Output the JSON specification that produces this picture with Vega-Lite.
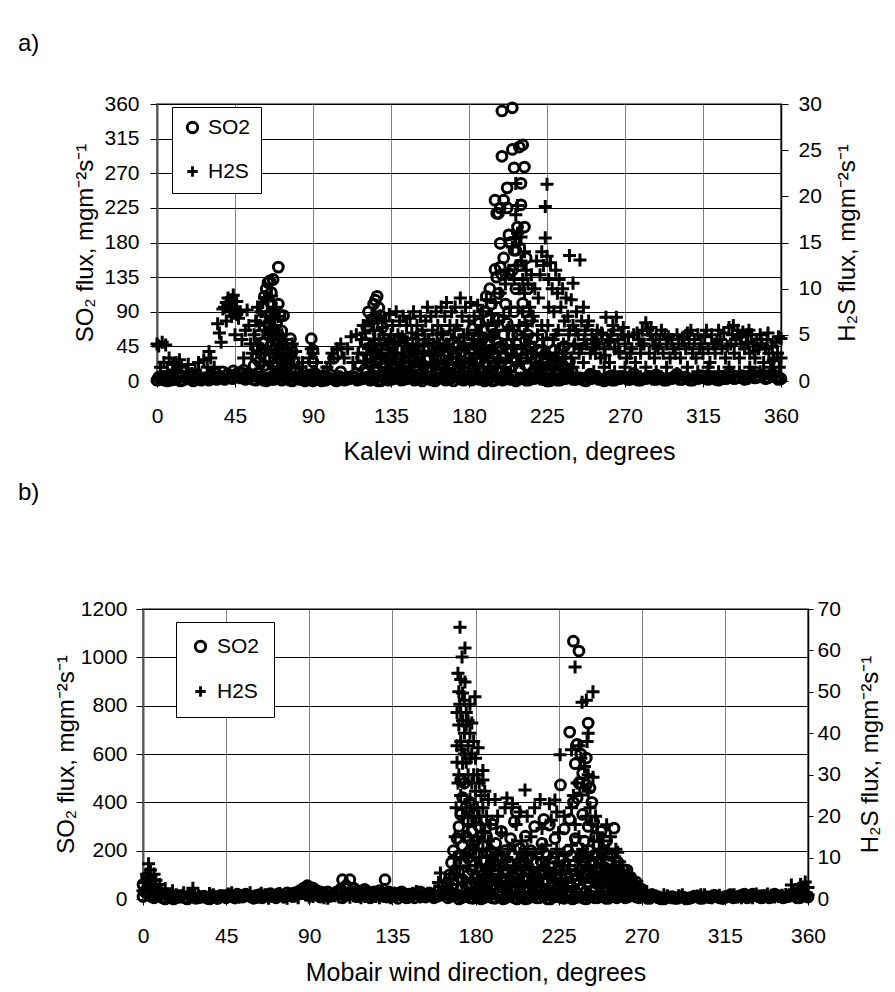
{
"$schema": "https://vega.github.io/schema/vega-lite/v6.json",
"background": "white",
"padding": {"left": 18, "top": 32, "right": 5, "bottom": 5},
"config": {
 "font": "Liberation Sans",
 "view": {"stroke": null},
 "axis": {"labelFont": "Liberation Sans", "titleFont": "Liberation Sans", "labelFontSize": 21, "titleFontSize": 24, "titleFontWeight": "normal", "labelColor": "#000", "titleColor": "#000", "domainColor": "#000", "tickColor": "#000", "labelOverlap": false, "labelFlush": false},
 "title": {"font": "Liberation Sans", "fontSize": 24, "fontWeight": "normal", "color": "#000", "anchor": "start"}
},
"datasets": {
 "aS": [
  {"d":0,"v":1},{"d":3,"v":4},{"d":6,"v":0},{"d":9,"v":2},{"d":12,"v":5},{"d":15,"v":1},{"d":18,"v":3},{"d":21,"v":0},{"d":24,"v":2},{"d":27,"v":4},{"d":30,"v":1},{"d":33,"v":3},{"d":36,"v":6},{"d":39,"v":2},{"d":42,"v":5},{"d":45,"v":8},{"d":48,"v":4},{"d":51,"v":2},{"d":54,"v":6},{"d":57,"v":1},{"d":60,"v":3},{"d":63,"v":0},{"d":66,"v":2},{"d":69,"v":5},{"d":72,"v":1},{"d":75,"v":3},{"d":78,"v":0},{"d":81,"v":4},{"d":84,"v":2},{"d":87,"v":5},{"d":90,"v":0},{"d":93,"v":3},{"d":96,"v":1},{"d":99,"v":4},{"d":102,"v":2},{"d":105,"v":6},{"d":108,"v":1},{"d":111,"v":3},{"d":114,"v":5},{"d":117,"v":2},{"d":120,"v":4},{"d":123,"v":1},{"d":126,"v":3},{"d":129,"v":0},{"d":132,"v":5},{"d":135,"v":2},{"d":138,"v":4},{"d":141,"v":1},{"d":144,"v":3},{"d":147,"v":6},{"d":150,"v":2},{"d":153,"v":0},{"d":156,"v":4},{"d":159,"v":1},{"d":162,"v":3},{"d":165,"v":5},{"d":168,"v":2},{"d":171,"v":0},{"d":174,"v":4},{"d":177,"v":1},{"d":180,"v":3},{"d":183,"v":6},{"d":186,"v":2},{"d":189,"v":0},{"d":192,"v":4},{"d":195,"v":1},{"d":198,"v":3},{"d":201,"v":5},{"d":204,"v":2},{"d":207,"v":0},{"d":210,"v":4},{"d":213,"v":1},{"d":216,"v":3},{"d":219,"v":6},{"d":222,"v":2},{"d":225,"v":0},{"d":228,"v":4},{"d":231,"v":1},{"d":234,"v":3},{"d":237,"v":5},{"d":240,"v":2},{"d":243,"v":4},{"d":246,"v":1},{"d":249,"v":3},{"d":252,"v":5},{"d":255,"v":2},{"d":258,"v":0},{"d":261,"v":4},{"d":264,"v":1},{"d":267,"v":3},{"d":270,"v":5},{"d":273,"v":2},{"d":276,"v":4},{"d":279,"v":1},{"d":282,"v":3},{"d":285,"v":5},{"d":288,"v":2},{"d":291,"v":4},{"d":294,"v":1},{"d":297,"v":3},{"d":300,"v":5},{"d":303,"v":2},{"d":306,"v":4},{"d":309,"v":1},{"d":312,"v":3},{"d":315,"v":6},{"d":318,"v":2},{"d":321,"v":4},{"d":324,"v":1},{"d":327,"v":3},{"d":330,"v":6},{"d":333,"v":3},{"d":336,"v":5},{"d":339,"v":2},{"d":342,"v":7},{"d":345,"v":4},{"d":348,"v":6},{"d":351,"v":3},{"d":354,"v":8},{"d":357,"v":5},{"d":360,"v":3},
  {"d":1.5,"v":3},{"d":4.5,"v":1},{"d":7.5,"v":4},{"d":10.5,"v":2},{"d":13.5,"v":0},{"d":16.5,"v":4},{"d":19.5,"v":2},{"d":22.5,"v":5},{"d":25.5,"v":1},{"d":28.5,"v":3},{"d":31.5,"v":6},{"d":34.5,"v":2},{"d":37.5,"v":4},{"d":40.5,"v":8},{"d":43.5,"v":3},{"d":46.5,"v":6},{"d":49.5,"v":10},{"d":52.5,"v":4},{"d":55.5,"v":2},{"d":58.5,"v":5},{"d":61.5,"v":1},{"d":64.5,"v":4},{"d":67.5,"v":2},{"d":70.5,"v":6},{"d":73.5,"v":3},{"d":76.5,"v":1},{"d":79.5,"v":5},{"d":82.5,"v":2},{"d":85.5,"v":0},{"d":88.5,"v":4},{"d":91.5,"v":2},{"d":94.5,"v":5},{"d":97.5,"v":1},{"d":100.5,"v":3},{"d":103.5,"v":0},{"d":106.5,"v":4},{"d":109.5,"v":2},{"d":112.5,"v":6},{"d":115.5,"v":1},{"d":118.5,"v":3},{"d":121.5,"v":5},{"d":124.5,"v":2},{"d":127.5,"v":0},{"d":130.5,"v":4},{"d":133.5,"v":1},{"d":136.5,"v":3},{"d":139.5,"v":6},{"d":142.5,"v":2},{"d":145.5,"v":4},{"d":148.5,"v":1},{"d":151.5,"v":3},{"d":154.5,"v":5},{"d":157.5,"v":2},{"d":160.5,"v":0},{"d":163.5,"v":4},{"d":166.5,"v":1},{"d":169.5,"v":3},{"d":172.5,"v":6},{"d":175.5,"v":2},{"d":178.5,"v":4},{"d":181.5,"v":1},{"d":184.5,"v":3},{"d":187.5,"v":5},{"d":190.5,"v":2},{"d":193.5,"v":0},{"d":196.5,"v":4},{"d":199.5,"v":1},{"d":202.5,"v":3},{"d":205.5,"v":6},{"d":208.5,"v":2},{"d":211.5,"v":4},{"d":214.5,"v":1},{"d":217.5,"v":3},{"d":220.5,"v":5},{"d":223.5,"v":2},{"d":226.5,"v":0},{"d":229.5,"v":4},{"d":232.5,"v":1},{"d":235.5,"v":3},{"d":238.5,"v":6},{"d":241.5,"v":2},{"d":244.5,"v":4},{"d":247.5,"v":0},{"d":250.5,"v":3},{"d":253.5,"v":6},{"d":256.5,"v":2},{"d":259.5,"v":4},{"d":262.5,"v":1},{"d":265.5,"v":3},{"d":268.5,"v":6},{"d":271.5,"v":2},{"d":274.5,"v":4},{"d":277.5,"v":1},{"d":280.5,"v":3},{"d":283.5,"v":6},{"d":286.5,"v":2},{"d":289.5,"v":4},{"d":292.5,"v":1},{"d":295.5,"v":3},{"d":298.5,"v":6},{"d":301.5,"v":2},{"d":304.5,"v":5},{"d":307.5,"v":1},{"d":310.5,"v":4},{"d":313.5,"v":7},{"d":316.5,"v":3},{"d":319.5,"v":5},{"d":322.5,"v":2},{"d":325.5,"v":6},{"d":328.5,"v":3},{"d":331.5,"v":8},{"d":334.5,"v":4},{"d":337.5,"v":7},{"d":340.5,"v":3},{"d":343.5,"v":9},{"d":346.5,"v":5},{"d":349.5,"v":8},{"d":352.5,"v":4},{"d":355.5,"v":7},{"d":358.5,"v":2},
  {"d":1,"v":5},{"d":2,"v":2},{"d":4,"v":6},{"d":5,"v":3},{"d":7,"v":4},{"d":8,"v":1},{"d":10,"v":3},{"d":31,"v":8},{"d":34,"v":10},{"d":38,"v":12},{"d":41,"v":9},{"d":44,"v":13},{"d":47,"v":11},{"d":50,"v":14},{"d":53,"v":9},
  {"d":56,"v":20},{"d":57,"v":30},{"d":58,"v":45},{"d":59,"v":60},{"d":60,"v":80},{"d":61,"v":95},{"d":62,"v":70},{"d":62,"v":110},{"d":63,"v":120},{"d":64,"v":128},{"d":65,"v":130},{"d":66,"v":115},{"d":66,"v":100},{"d":67,"v":132},{"d":68,"v":90},{"d":68,"v":60},{"d":69,"v":75},{"d":70,"v":148},{"d":70,"v":100},{"d":71,"v":85},{"d":72,"v":65},{"d":72,"v":45},{"d":73,"v":85},{"d":74,"v":40},{"d":75,"v":30},{"d":76,"v":20},{"d":77,"v":55},{"d":78,"v":38},{"d":79,"v":25},{"d":80,"v":15},{"d":82,"v":10},{"d":84,"v":5},{"d":86,"v":3},{"d":88,"v":8},
  {"d":58,"v":10},{"d":59,"v":25},{"d":60,"v":35},{"d":60,"v":5},{"d":61,"v":50},{"d":62,"v":20},{"d":63,"v":40},{"d":64,"v":60},{"d":64,"v":15},{"d":65,"v":75},{"d":65,"v":30},{"d":66,"v":45},{"d":66,"v":5},{"d":67,"v":20},{"d":67,"v":65},{"d":68,"v":35},{"d":69,"v":10},{"d":69,"v":50},{"d":70,"v":30},{"d":70,"v":60},{"d":71,"v":15},{"d":71,"v":45},{"d":72,"v":25},{"d":73,"v":10},{"d":74,"v":20},{"d":75,"v":5},
  {"d":89,"v":55},{"d":90,"v":25},{"d":90,"v":40},{"d":91,"v":10},{"d":92,"v":3},{"d":95,"v":0},{"d":97,"v":5},{"d":100,"v":8},{"d":102,"v":30},{"d":104,"v":35},{"d":106,"v":12},{"d":108,"v":3},{"d":110,"v":5},
  {"d":115,"v":10},{"d":117,"v":20},{"d":119,"v":40},{"d":120,"v":50},{"d":121,"v":70},{"d":122,"v":90},{"d":123,"v":60},{"d":124,"v":80},{"d":125,"v":100},{"d":126,"v":105},{"d":127,"v":110},{"d":128,"v":95},{"d":129,"v":85},{"d":130,"v":70},{"d":131,"v":55},{"d":132,"v":40},{"d":118,"v":30},{"d":120,"v":15},{"d":122,"v":30},{"d":124,"v":45},{"d":126,"v":25},{"d":128,"v":60},{"d":130,"v":20},{"d":131,"v":35},{"d":133,"v":10},{"d":134,"v":50},
  {"d":136,"v":45},{"d":137,"v":15},{"d":139,"v":30},{"d":140,"v":55},{"d":141,"v":5},{"d":143,"v":25},{"d":144,"v":40},{"d":146,"v":10},{"d":147,"v":50},{"d":149,"v":20},{"d":150,"v":35},{"d":152,"v":60},{"d":153,"v":5},{"d":155,"v":28},{"d":156,"v":45},{"d":158,"v":15},{"d":159,"v":55},{"d":161,"v":30},{"d":162,"v":8},{"d":164,"v":42},{"d":165,"v":20},{"d":167,"v":58},{"d":168,"v":35},{"d":170,"v":10},{"d":171,"v":48},{"d":173,"v":25},{"d":174,"v":62},{"d":176,"v":38},{"d":177,"v":12},{"d":179,"v":50},{"d":180,"v":30},{"d":182,"v":68},{"d":183,"v":18},{"d":185,"v":45},{"d":186,"v":75},{"d":187,"v":28},{"d":188,"v":55},{"d":189,"v":90},{"d":190,"v":35},{"d":190,"v":110},
  {"d":121,"v":12},{"d":122.5,"v":22},{"d":124,"v":8},{"d":125.5,"v":35},{"d":127,"v":15},{"d":128.5,"v":28},{"d":130,"v":6},{"d":131.5,"v":18},{"d":133,"v":30},{"d":134.5,"v":12},{"d":136,"v":22},{"d":137.5,"v":8},{"d":139,"v":40},{"d":140.5,"v":18},{"d":142,"v":10},{"d":143.5,"v":32},{"d":145,"v":20},{"d":146.5,"v":6},{"d":148,"v":36},{"d":149.5,"v":14},{"d":151,"v":25},{"d":152.5,"v":9},{"d":154,"v":42},{"d":155.5,"v":16},{"d":157,"v":30},{"d":158.5,"v":6},{"d":160,"v":22},{"d":161.5,"v":44},{"d":163,"v":12},{"d":164.5,"v":28},{"d":166,"v":8},{"d":167.5,"v":38},{"d":169,"v":20},{"d":170.5,"v":30},{"d":172,"v":12},{"d":173.5,"v":46},{"d":175,"v":22},{"d":176.5,"v":8},{"d":178,"v":34},{"d":179.5,"v":16},{"d":181,"v":42},{"d":182.5,"v":10},{"d":184,"v":28},{"d":185.5,"v":55},{"d":187,"v":14},{"d":188.5,"v":36},{"d":190,"v":20},{"d":191.5,"v":50},{"d":193,"v":10},{"d":194.5,"v":36},{"d":196,"v":15},{"d":197.5,"v":44},{"d":199,"v":12},{"d":200.5,"v":32},{"d":202,"v":48},{"d":203.5,"v":18},{"d":205,"v":60},{"d":206.5,"v":26},{"d":208,"v":40},{"d":209.5,"v":14},{"d":211,"v":30},{"d":212.5,"v":52},{"d":214,"v":18},{"d":215.5,"v":34},{"d":217,"v":12},{"d":218.5,"v":26},{"d":220,"v":8},{"d":221.5,"v":38},{"d":223,"v":16},{"d":224.5,"v":28},{"d":226,"v":10},{"d":227.5,"v":20},{"d":229,"v":30},{"d":230.5,"v":14},{"d":232,"v":10},{"d":233.5,"v":22},{"d":235,"v":8},{"d":236.5,"v":16},{"d":238,"v":6},{"d":239.5,"v":12},
  {"d":191,"v":80},{"d":192,"v":120},{"d":193,"v":100},{"d":194,"v":60},{"d":195,"v":145},{"d":195,"v":235},{"d":196,"v":135},{"d":196,"v":218},{"d":197,"v":114},{"d":197,"v":218},{"d":198,"v":148},{"d":198,"v":179},{"d":198,"v":225},{"d":199,"v":138},{"d":199,"v":292},{"d":199,"v":351},{"d":200,"v":160},{"d":200,"v":235},{"d":201,"v":100},{"d":202,"v":251},{"d":202,"v":225},{"d":203,"v":190},{"d":203,"v":140},{"d":204,"v":180},{"d":205,"v":144},{"d":205,"v":301},{"d":205,"v":355},{"d":206,"v":170},{"d":206,"v":277},{"d":207,"v":170},{"d":207,"v":120},{"d":208,"v":200},{"d":209,"v":304},{"d":209,"v":150},{"d":210,"v":257},{"d":210,"v":229},{"d":211,"v":307},{"d":211,"v":101},{"d":212,"v":278},{"d":212,"v":200},{"d":213,"v":160},{"d":213,"v":90},{"d":214,"v":120},{"d":214,"v":60},{"d":215,"v":80},
  {"d":192,"v":40},{"d":193,"v":70},{"d":194,"v":20},{"d":196,"v":50},{"d":197,"v":80},{"d":199,"v":30},{"d":200,"v":60},{"d":201,"v":10},{"d":202,"v":75},{"d":204,"v":40},{"d":206,"v":90},{"d":207,"v":25},{"d":208,"v":60},{"d":210,"v":40},{"d":211,"v":70},{"d":213,"v":20},{"d":215,"v":45},
  {"d":216,"v":30},{"d":217,"v":55},{"d":218,"v":10},{"d":220,"v":40},{"d":221,"v":20},{"d":222,"v":60},{"d":224,"v":35},{"d":225,"v":15},{"d":226,"v":50},{"d":228,"v":25},{"d":229,"v":40},{"d":230,"v":8},{"d":232,"v":30},{"d":234,"v":20},{"d":235,"v":45},{"d":237,"v":10},{"d":238,"v":25},{"d":240,"v":5},
  {"d":250,"v":9},{"d":262,"v":7},{"d":275,"v":10},{"d":288,"v":8},{"d":300,"v":9},{"d":318,"v":7},{"d":330,"v":10},{"d":345,"v":12},{"d":355,"v":9},{"d":358,"v":6}
 ],
 "aH": [
  {"d":0,"v":4},{"d":1,"v":3.8},{"d":2,"v":1.5},{"d":3,"v":4.2},{"d":4,"v":2},{"d":5,"v":3.9},{"d":6,"v":1},{"d":7,"v":2.5},{"d":8,"v":0.5},{"d":9,"v":1.8},{"d":10,"v":1.2},
  {"d":11,"v":2},{"d":12,"v":1},{"d":13,"v":2.3},{"d":14,"v":1.5},{"d":15,"v":0.5},{"d":17,"v":1},{"d":18,"v":1.8},{"d":20,"v":0.8},{"d":22,"v":1.2},{"d":24,"v":2},{"d":25,"v":0.5},{"d":27,"v":2.3},{"d":29,"v":1.5},
  {"d":30,"v":3.2},{"d":31,"v":2.5},{"d":33,"v":1.5},{"d":35,"v":6.2},{"d":36,"v":5.2},{"d":37,"v":4.2},{"d":38,"v":7.8},{"d":39,"v":8},{"d":40,"v":6.5},{"d":40,"v":8.5},{"d":41,"v":9},{"d":42,"v":7.5},{"d":42,"v":8.2},{"d":43,"v":8.8},{"d":43,"v":7},{"d":44,"v":7.8},{"d":44,"v":9.3},{"d":45,"v":8},{"d":45,"v":5},{"d":46,"v":7.2},{"d":46,"v":8.6},{"d":47,"v":6.8},{"d":48,"v":7.5},{"d":49,"v":4.5},{"d":50,"v":2.5},{"d":51,"v":5.5},{"d":52,"v":7.7},{"d":53,"v":6},{"d":54,"v":4},{"d":55,"v":3},
  {"d":56,"v":5},{"d":57,"v":6.5},{"d":58,"v":4},{"d":58,"v":8},{"d":59,"v":6},{"d":60,"v":7.5},{"d":60,"v":3},{"d":61,"v":8.5},{"d":62,"v":5.5},{"d":62,"v":9},{"d":63,"v":7},{"d":63,"v":3.5},{"d":64,"v":8.8},{"d":64,"v":5},{"d":65,"v":6.5},{"d":65,"v":2},{"d":66,"v":9.2},{"d":66,"v":4.5},{"d":67,"v":7.5},{"d":67,"v":1.5},{"d":68,"v":6},{"d":68,"v":8},{"d":69,"v":3},{"d":69,"v":5.5},{"d":70,"v":4},{"d":70,"v":7},{"d":71,"v":2.5},{"d":72,"v":5},{"d":73,"v":3.5},{"d":74,"v":4.5},{"d":75,"v":2},{"d":76,"v":3},{"d":77,"v":1.5},{"d":78,"v":4},{"d":79,"v":2.5},{"d":80,"v":3.2},{"d":82,"v":1.5},{"d":84,"v":2},{"d":86,"v":1},{"d":88,"v":2.5},{"d":89,"v":3.5},{"d":90,"v":3},{"d":91,"v":1},{"d":92,"v":2},{"d":94,"v":0.5},{"d":96,"v":1},{"d":98,"v":1.5},{"d":100,"v":2},{"d":101,"v":3},{"d":102,"v":2.5},{"d":104,"v":3.5},{"d":106,"v":4},{"d":108,"v":2.5},{"d":110,"v":3.5},{"d":112,"v":4.8},{"d":113,"v":2},{"d":115,"v":5},{"d":116,"v":3},{"d":118,"v":4.5},{"d":119,"v":6},{"d":120,"v":5.2},{"d":121,"v":3},{"d":122,"v":6.5},{"d":123,"v":4},{"d":124,"v":7},{"d":125,"v":5.5},{"d":126,"v":3},{"d":127,"v":6.8},{"d":128,"v":4.5},{"d":129,"v":7},{"d":130,"v":5.8},{"d":131,"v":2.5},{"d":132,"v":6.5},{"d":133,"v":4},{"d":134,"v":7.2},{"d":135,"v":5},{"d":136,"v":6},{"d":137,"v":3},{"d":138,"v":7.5},{"d":139,"v":5},{"d":140,"v":6.5},{"d":141,"v":2},{"d":142,"v":7},{"d":143,"v":4.5},{"d":144,"v":6},{"d":145,"v":3.5},{"d":146,"v":6.8},{"d":147,"v":5.2},{"d":148,"v":7.5},{"d":149,"v":2.5},{"d":150,"v":6},{"d":151,"v":4},{"d":152,"v":7},{"d":153,"v":5.5},{"d":154,"v":3},{"d":155,"v":6.5},{"d":156,"v":8},{"d":157,"v":4.5},{"d":158,"v":7},{"d":159,"v":5.5},{"d":160,"v":3},{"d":161,"v":7.5},{"d":162,"v":6},{"d":163,"v":4},{"d":164,"v":8},{"d":165,"v":5},{"d":166,"v":7},{"d":167,"v":8.5},{"d":168,"v":3.5},{"d":169,"v":6},{"d":170,"v":7.5},{"d":171,"v":4.5},{"d":172,"v":8},{"d":173,"v":6},{"d":174,"v":2.5},{"d":175,"v":9},{"d":176,"v":7},{"d":177,"v":5},{"d":178,"v":8},{"d":179,"v":3.5},{"d":180,"v":6.5},{"d":181,"v":8.5},{"d":182,"v":4},{"d":183,"v":7},{"d":184,"v":5.5},{"d":185,"v":8.2},{"d":186,"v":3},{"d":187,"v":6},{"d":188,"v":7.5},{"d":189,"v":4.5},{"d":190,"v":8.8},{"d":191,"v":6},{"d":192,"v":3},{"d":193,"v":7.2},{"d":194,"v":5},{"d":195,"v":8.5},{"d":196,"v":2},{"d":197,"v":6.5},{"d":198,"v":9.5},{"d":199,"v":4},{"d":200,"v":7},{"d":201,"v":10.5},{"d":202,"v":5.5},{"d":203,"v":12},{"d":204,"v":8},{"d":205,"v":14.5},{"d":206,"v":11},{"d":207,"v":21.4},{"d":207,"v":15.5},{"d":207,"v":18},{"d":208,"v":16},{"d":208,"v":19},{"d":208,"v":12.5},{"d":209,"v":14.8},{"d":209,"v":10},{"d":210,"v":15.6},{"d":210,"v":13},{"d":211,"v":7.5},{"d":211,"v":11},{"d":212,"v":9.5},{"d":212,"v":14},{"d":213,"v":6},{"d":213,"v":12},{"d":214,"v":10.5},{"d":215,"v":8},{"d":216,"v":11.5},{"d":217,"v":7},{"d":218,"v":10},{"d":219,"v":13},{"d":220,"v":9},{"d":221,"v":11.5},{"d":222,"v":14},{"d":222,"v":6},{"d":223,"v":12.5},{"d":224,"v":18.9},{"d":224,"v":15.5},{"d":225,"v":21.3},{"d":225,"v":13.5},{"d":226,"v":11},{"d":226,"v":8},{"d":227,"v":12.8},{"d":228,"v":10},{"d":229,"v":7.5},{"d":230,"v":12},{"d":230,"v":5},{"d":231,"v":9.5},{"d":232,"v":11},{"d":233,"v":8},{"d":234,"v":10},{"d":235,"v":6.5},{"d":236,"v":9},{"d":237,"v":7},{"d":238,"v":13.6},{"d":238,"v":5.5},{"d":239,"v":8.8},{"d":240,"v":10.6},{"d":240,"v":6},{"d":241,"v":4},{"d":242,"v":7.5},{"d":243,"v":5},{"d":244,"v":13.1},{"d":245,"v":6.5},{"d":245,"v":3.5},{"d":246,"v":8},{"d":247,"v":5.5},{"d":248,"v":4},{"d":249,"v":6.5},{"d":250,"v":3},{"d":251,"v":5},{"d":252,"v":4.5},{"d":253,"v":3},{"d":254,"v":5.5},{"d":255,"v":4},{"d":256,"v":2.5},{"d":257,"v":5},{"d":258,"v":3.5},{"d":259,"v":6.9},{"d":260,"v":4.5},{"d":261,"v":2},{"d":262,"v":5},{"d":263,"v":6},{"d":264,"v":3.5},{"d":265,"v":6.9},{"d":266,"v":4.5},{"d":267,"v":3},{"d":268,"v":5},{"d":270,"v":4},{"d":271,"v":2.5},{"d":272,"v":4.8},{"d":274,"v":3.5},{"d":275,"v":5},{"d":276,"v":2},{"d":278,"v":4.5},{"d":279,"v":3},{"d":280,"v":5.5},{"d":281,"v":4},{"d":282,"v":6.3},{"d":283,"v":5.5},{"d":284,"v":3},{"d":285,"v":5.8},{"d":286,"v":4.5},{"d":287,"v":2.5},{"d":288,"v":5},{"d":289,"v":3.5},{"d":290,"v":4.5},{"d":292,"v":3},{"d":293,"v":5},{"d":294,"v":4},{"d":296,"v":2.5},{"d":297,"v":4.5},{"d":298,"v":3.5},{"d":300,"v":5},{"d":301,"v":4},{"d":302,"v":2.5},{"d":303,"v":4.5},{"d":305,"v":3.5},{"d":306,"v":5.2},{"d":307,"v":4},{"d":309,"v":3},{"d":310,"v":4.5},{"d":311,"v":2.5},{"d":312,"v":5},{"d":314,"v":4},{"d":315,"v":3},{"d":316,"v":4.8},{"d":318,"v":3.5},{"d":319,"v":2},{"d":320,"v":5},{"d":321,"v":4},{"d":322,"v":3},{"d":324,"v":5.5},{"d":325,"v":4.5},{"d":326,"v":3.5},{"d":327,"v":5.2},{"d":328,"v":2.5},{"d":330,"v":5.8},{"d":331,"v":4},{"d":332,"v":5},{"d":333,"v":3},{"d":334,"v":4.5},{"d":335,"v":5.5},{"d":336,"v":2.5},{"d":337,"v":4},{"d":338,"v":5.3},{"d":339,"v":3.5},{"d":340,"v":5},{"d":341,"v":4.2},{"d":342,"v":3},{"d":343,"v":5},{"d":344,"v":4},{"d":345,"v":2.5},{"d":346,"v":4.5},{"d":347,"v":3.5},{"d":348,"v":5},{"d":349,"v":4},{"d":350,"v":2},{"d":351,"v":3.5},{"d":352,"v":4.5},{"d":353,"v":3},{"d":354,"v":1.5},{"d":355,"v":3.8},{"d":356,"v":2.5},{"d":357,"v":4.2},{"d":358,"v":3},{"d":359,"v":1.5},{"d":360,"v":4.6},{"d":360,"v":2.5},
  {"d":132,"v":1.5},{"d":138,"v":2},{"d":144,"v":1},{"d":150,"v":2.5},{"d":156,"v":1.5},{"d":162,"v":2},{"d":168,"v":1},{"d":174,"v":1.5},{"d":180,"v":2},{"d":186,"v":1},{"d":192,"v":1.5},{"d":198,"v":2.5},{"d":204,"v":1},{"d":210,"v":2},{"d":216,"v":3},{"d":222,"v":1.5},{"d":228,"v":2},{"d":234,"v":2.5},{"d":240,"v":1.5},{"d":246,"v":2},{"d":252,"v":1},{"d":258,"v":1.5},{"d":264,"v":1},{"d":270,"v":1.5},{"d":276,"v":1},{"d":282,"v":1.5},{"d":288,"v":1},{"d":294,"v":1.5},{"d":300,"v":0.8},{"d":306,"v":1.5},{"d":312,"v":1},{"d":318,"v":1.5},{"d":324,"v":1},{"d":330,"v":1.5},{"d":336,"v":1},{"d":342,"v":1.5},{"d":348,"v":1},{"d":354,"v":0.8},
  {"d":120.5,"v":2},{"d":122,"v":3.5},{"d":123.5,"v":1.5},{"d":125,"v":4},{"d":126.5,"v":2.5},{"d":128,"v":1},{"d":129.5,"v":3.5},{"d":131,"v":4.5},{"d":132.5,"v":2},{"d":134,"v":3},{"d":135.5,"v":1.2},{"d":137,"v":4.2},{"d":138.5,"v":3},{"d":140,"v":1.8},{"d":141.5,"v":4.8},{"d":143,"v":2.5},{"d":144.5,"v":3.8},{"d":146,"v":1.5},{"d":147.5,"v":4},{"d":149,"v":3},{"d":150.5,"v":5},{"d":152,"v":2},{"d":153.5,"v":3.8},{"d":155,"v":1.5},{"d":156.5,"v":4.5},{"d":158,"v":2.8},{"d":159.5,"v":4},{"d":161,"v":1.5},{"d":162.5,"v":3.5},{"d":164,"v":5.2},{"d":165.5,"v":2.2},{"d":167,"v":4},{"d":168.5,"v":1.8},{"d":170,"v":3.2},{"d":171.5,"v":5.5},{"d":173,"v":2.5},{"d":174.5,"v":4.2},{"d":176,"v":1.5},{"d":177.5,"v":3.5},{"d":179,"v":5},{"d":180.5,"v":2.5},{"d":182,"v":4.5},{"d":183.5,"v":1.8},{"d":185,"v":3.8},{"d":186.5,"v":5.2},{"d":188,"v":2.5},{"d":189.5,"v":3.5},{"d":191,"v":1.5},{"d":192.5,"v":4.8},{"d":194,"v":3},{"d":195.5,"v":5.5},{"d":197,"v":2.2},{"d":198.5,"v":4},{"d":200,"v":1.5},{"d":201.5,"v":3.8},{"d":203,"v":5.8},{"d":204.5,"v":2.8},{"d":206,"v":4.5},{"d":207.5,"v":2},{"d":209,"v":6},{"d":210.5,"v":3.5},{"d":212,"v":5},{"d":213.5,"v":2.5},{"d":215,"v":4.2},{"d":216.5,"v":6.5},{"d":218,"v":3},{"d":219.5,"v":5},{"d":221,"v":2},{"d":222.5,"v":4.5},{"d":224,"v":3},{"d":225.5,"v":6},{"d":227,"v":2.5},{"d":228.5,"v":4.5},{"d":230,"v":3},{"d":231.5,"v":5.5},{"d":233,"v":2},{"d":234.5,"v":4},{"d":236,"v":3},{"d":237.5,"v":5},{"d":239,"v":2.5},{"d":240.5,"v":3.8},
  {"d":241.5,"v":5.5},{"d":243.5,"v":3},{"d":246.5,"v":4.5},{"d":248.5,"v":6},{"d":251.5,"v":3.5},{"d":253.5,"v":4.2},{"d":256.5,"v":5.2},{"d":258.5,"v":2.8},{"d":261.5,"v":4.2},{"d":263.5,"v":5.5},{"d":266.5,"v":3.2},{"d":269,"v":5.8},{"d":273,"v":3},{"d":277,"v":5.2},{"d":279.5,"v":4},{"d":284.5,"v":5},{"d":287.5,"v":3.8},{"d":291,"v":5.5},{"d":295,"v":4.8},{"d":299,"v":3},{"d":304,"v":4.8},{"d":308,"v":5.5},{"d":313,"v":3.5},{"d":317,"v":5.5},{"d":323,"v":4.2},{"d":329,"v":3.8},{"d":332.5,"v":6},{"d":336.5,"v":4.8},{"d":341.5,"v":5.5},{"d":344.5,"v":3.2},{"d":348.5,"v":4.5},{"d":352.5,"v":5.2},{"d":355.5,"v":2.2},{"d":358.5,"v":4.8}
 ],
 "bS": [
  {"d":0,"v":10},{"d":3,"v":20},{"d":6,"v":5},{"d":9,"v":15},{"d":12,"v":0},{"d":15,"v":10},{"d":18,"v":5},{"d":21,"v":15},{"d":24,"v":0},{"d":27,"v":10},{"d":30,"v":5},{"d":33,"v":12},{"d":36,"v":0},{"d":39,"v":8},{"d":42,"v":15},{"d":45,"v":5},{"d":48,"v":12},{"d":51,"v":20},{"d":54,"v":8},{"d":57,"v":15},{"d":60,"v":3},{"d":63,"v":18},{"d":66,"v":10},{"d":69,"v":22},{"d":72,"v":5},{"d":75,"v":15},{"d":78,"v":25},{"d":81,"v":10},{"d":84,"v":20},{"d":87,"v":30},{"d":90,"v":15},{"d":93,"v":25},{"d":96,"v":8},{"d":99,"v":20},{"d":102,"v":12},{"d":105,"v":25},{"d":108,"v":5},{"d":111,"v":18},{"d":114,"v":28},{"d":117,"v":10},{"d":120,"v":22},{"d":123,"v":5},{"d":126,"v":15},{"d":129,"v":25},{"d":132,"v":8},{"d":135,"v":18},{"d":138,"v":3},{"d":141,"v":12},{"d":144,"v":20},{"d":147,"v":5},{"d":150,"v":15},{"d":153,"v":8},{"d":156,"v":20},{"d":159,"v":10},{"d":162,"v":25},{"d":165,"v":5},{"d":168,"v":15},{"d":171,"v":0},{"d":174,"v":10},{"d":177,"v":5},{"d":180,"v":15},{"d":183,"v":0},{"d":186,"v":10},{"d":189,"v":5},{"d":192,"v":20},{"d":195,"v":0},{"d":198,"v":12},{"d":201,"v":5},{"d":204,"v":15},{"d":207,"v":0},{"d":210,"v":10},{"d":213,"v":5},{"d":216,"v":18},{"d":219,"v":0},{"d":222,"v":8},{"d":225,"v":12},{"d":228,"v":3},{"d":231,"v":15},{"d":234,"v":5},{"d":237,"v":10},{"d":240,"v":0},{"d":243,"v":12},{"d":246,"v":5},{"d":249,"v":15},{"d":252,"v":3},{"d":255,"v":10},{"d":258,"v":20},{"d":261,"v":5},{"d":264,"v":15},{"d":267,"v":8},{"d":270,"v":18},{"d":273,"v":3},{"d":276,"v":12},{"d":279,"v":5},{"d":282,"v":0},{"d":285,"v":8},{"d":288,"v":3},{"d":291,"v":10},{"d":294,"v":0},{"d":297,"v":5},{"d":300,"v":12},{"d":303,"v":3},{"d":306,"v":8},{"d":309,"v":15},{"d":312,"v":5},{"d":315,"v":10},{"d":318,"v":18},{"d":321,"v":8},{"d":324,"v":15},{"d":327,"v":5},{"d":330,"v":20},{"d":333,"v":10},{"d":336,"v":15},{"d":339,"v":5},{"d":342,"v":20},{"d":345,"v":12},{"d":348,"v":8},{"d":351,"v":15},{"d":354,"v":5},{"d":357,"v":12},{"d":360,"v":8},
  {"d":1.5,"v":30},{"d":4.5,"v":10},{"d":7.5,"v":25},{"d":10.5,"v":5},{"d":13.5,"v":15},{"d":16.5,"v":0},{"d":19.5,"v":10},{"d":22.5,"v":5},{"d":25.5,"v":15},{"d":28.5,"v":3},{"d":31.5,"v":10},{"d":34.5,"v":5},{"d":37.5,"v":15},{"d":40.5,"v":3},{"d":43.5,"v":10},{"d":46.5,"v":18},{"d":49.5,"v":5},{"d":52.5,"v":12},{"d":55.5,"v":20},{"d":58.5,"v":8},{"d":61.5,"v":15},{"d":64.5,"v":5},{"d":67.5,"v":18},{"d":70.5,"v":10},{"d":73.5,"v":22},{"d":76.5,"v":8},{"d":79.5,"v":18},{"d":82.5,"v":12},{"d":85.5,"v":25},{"d":88.5,"v":40},{"d":91.5,"v":28},{"d":94.5,"v":15},{"d":97.5,"v":22},{"d":100.5,"v":10},{"d":103.5,"v":20},{"d":106.5,"v":30},{"d":109.5,"v":15},{"d":112.5,"v":25},{"d":115.5,"v":10},{"d":118.5,"v":20},{"d":121.5,"v":30},{"d":124.5,"v":12},{"d":127.5,"v":20},{"d":130.5,"v":10},{"d":133.5,"v":25},{"d":136.5,"v":12},{"d":139.5,"v":20},{"d":142.5,"v":5},{"d":145.5,"v":15},{"d":148.5,"v":25},{"d":151.5,"v":10},{"d":154.5,"v":18},{"d":157.5,"v":5},{"d":160.5,"v":15},{"d":163.5,"v":30},{"d":166.5,"v":10},{"d":169.5,"v":20},{"d":172.5,"v":5},{"d":175.5,"v":15},{"d":178.5,"v":3},{"d":181.5,"v":10},{"d":184.5,"v":5},{"d":187.5,"v":15},{"d":190.5,"v":3},{"d":193.5,"v":10},{"d":196.5,"v":5},{"d":199.5,"v":15},{"d":202.5,"v":0},{"d":205.5,"v":10},{"d":208.5,"v":3},{"d":211.5,"v":12},{"d":214.5,"v":5},{"d":217.5,"v":15},{"d":220.5,"v":0},{"d":223.5,"v":10},{"d":226.5,"v":5},{"d":229.5,"v":12},{"d":232.5,"v":0},{"d":235.5,"v":8},{"d":238.5,"v":3},{"d":241.5,"v":12},{"d":244.5,"v":5},{"d":247.5,"v":15},{"d":250.5,"v":3},{"d":253.5,"v":10},{"d":256.5,"v":5},{"d":259.5,"v":15},{"d":262.5,"v":8},{"d":265.5,"v":20},{"d":268.5,"v":5},{"d":271.5,"v":12},{"d":274.5,"v":3},{"d":277.5,"v":10},{"d":280.5,"v":0},{"d":283.5,"v":5},{"d":286.5,"v":10},{"d":289.5,"v":3},{"d":292.5,"v":8},{"d":295.5,"v":5},{"d":298.5,"v":12},{"d":301.5,"v":3},{"d":304.5,"v":10},{"d":307.5,"v":5},{"d":310.5,"v":12},{"d":313.5,"v":3},{"d":316.5,"v":10},{"d":319.5,"v":5},{"d":322.5,"v":12},{"d":325.5,"v":20},{"d":328.5,"v":8},{"d":331.5,"v":15},{"d":334.5,"v":5},{"d":337.5,"v":12},{"d":340.5,"v":8},{"d":343.5,"v":15},{"d":346.5,"v":5},{"d":349.5,"v":10},{"d":352.5,"v":18},{"d":355.5,"v":5},{"d":358.5,"v":12},
  {"d":0,"v":60},{"d":1,"v":30},{"d":2,"v":90},{"d":3,"v":45},{"d":4,"v":70},{"d":5,"v":20},{"d":6,"v":40},{"d":7,"v":15},{"d":8,"v":30},
  {"d":82,"v":25},{"d":85,"v":35},{"d":87,"v":45},{"d":89,"v":55},{"d":90,"v":50},{"d":92,"v":45},{"d":94,"v":35},{"d":96,"v":30},{"d":98,"v":25},{"d":100,"v":30},
  {"d":105,"v":30},{"d":107,"v":40},{"d":108,"v":80},{"d":110,"v":55},{"d":112,"v":80},{"d":114,"v":45},{"d":116,"v":35},{"d":118,"v":30},{"d":120,"v":40},{"d":122,"v":25},{"d":125,"v":30},{"d":128,"v":35},{"d":131,"v":80},{"d":133,"v":30},{"d":136,"v":25},{"d":140,"v":30},{"d":145,"v":20},{"d":150,"v":30},{"d":155,"v":25},{"d":160,"v":35},
  {"d":165,"v":60},{"d":166,"v":100},{"d":167,"v":150},{"d":168,"v":200},{"d":169,"v":120},{"d":170,"v":250},{"d":170,"v":80},{"d":171,"v":300},{"d":171,"v":180},{"d":172,"v":350},{"d":172,"v":492},{"d":173,"v":420},{"d":173,"v":220},{"d":174,"v":480},{"d":174,"v":150},{"d":175,"v":380},{"d":175,"v":260},{"d":176,"v":320},{"d":176,"v":100},{"d":177,"v":400},{"d":177,"v":200},{"d":178,"v":280},{"d":178,"v":60},{"d":179,"v":350},{"d":179,"v":140},{"d":180,"v":240},{"d":180,"v":90},
  {"d":181,"v":180},{"d":182,"v":300},{"d":183,"v":120},{"d":184,"v":220},{"d":185,"v":160},{"d":186,"v":260},{"d":187,"v":90},{"d":188,"v":200},{"d":189,"v":310},{"d":190,"v":140},{"d":191,"v":230},{"d":192,"v":70},{"d":193,"v":180},{"d":194,"v":280},{"d":195,"v":110},{"d":196,"v":200},{"d":197,"v":50},{"d":198,"v":150},{"d":199,"v":250},{"d":200,"v":180},{"d":201,"v":320},{"d":202,"v":360},{"d":203,"v":100},{"d":204,"v":210},{"d":205,"v":60},{"d":206,"v":160},{"d":207,"v":260},{"d":208,"v":120},{"d":209,"v":40},{"d":210,"v":200},{"d":211,"v":90},{"d":212,"v":300},{"d":213,"v":150},{"d":214,"v":30},{"d":215,"v":100},{"d":216,"v":230},{"d":217,"v":330},{"d":218,"v":80},{"d":219,"v":180},{"d":220,"v":306},{"d":221,"v":130},{"d":222,"v":50},{"d":223,"v":250},{"d":224,"v":100},{"d":225,"v":120},{"d":226,"v":472},{"d":226,"v":160},{"d":227,"v":60},{"d":228,"v":290},{"d":229,"v":20},{"d":230,"v":200},{"d":231,"v":330},{"d":231,"v":691},{"d":232,"v":120},{"d":233,"v":1067},{"d":233,"v":400},{"d":234,"v":560},{"d":234,"v":250},{"d":235,"v":640},{"d":235,"v":418},{"d":236,"v":1026},{"d":236,"v":480},{"d":237,"v":600},{"d":237,"v":180},{"d":238,"v":520},{"d":238,"v":350},{"d":239,"v":450},{"d":239,"v":240},{"d":240,"v":583},{"d":240,"v":472},{"d":240,"v":100},{"d":241,"v":728},{"d":241,"v":300},{"d":242,"v":460},{"d":242,"v":200},{"d":243,"v":400},{"d":243,"v":140},{"d":244,"v":320},{"d":244,"v":80},{"d":245,"v":260},{"d":245,"v":180},{"d":246,"v":220},{"d":247,"v":150},{"d":248,"v":280},{"d":248,"v":60},{"d":249,"v":200},{"d":250,"v":130},{"d":251,"v":240},{"d":252,"v":90},{"d":253,"v":180},{"d":254,"v":120},{"d":255,"v":293},{"d":256,"v":60},{"d":257,"v":153},{"d":258,"v":100},{"d":259,"v":40},{"d":260,"v":120},{"d":261,"v":70},{"d":262,"v":30},{"d":263,"v":90},{"d":264,"v":50},{"d":265,"v":20},{"d":266,"v":60},{"d":268,"v":30},{"d":270,"v":40},{"d":272,"v":20},{"d":274,"v":10},{"d":277,"v":15},{"d":280,"v":5},
  {"d":181,"v":40},{"d":183,"v":80},{"d":185,"v":20},{"d":187,"v":130},{"d":189,"v":60},{"d":191,"v":100},{"d":193,"v":30},{"d":195,"v":70},{"d":197,"v":120},{"d":199,"v":45},{"d":201,"v":90},{"d":203,"v":20},{"d":205,"v":140},{"d":207,"v":50},{"d":209,"v":110},{"d":211,"v":30},{"d":213,"v":75},{"d":215,"v":40},{"d":217,"v":120},{"d":219,"v":20},{"d":221,"v":90},{"d":223,"v":60},{"d":225,"v":130},{"d":227,"v":35},{"d":229,"v":100},{"d":231,"v":60},{"d":233,"v":140},{"d":235,"v":80},{"d":237,"v":40},{"d":239,"v":110},{"d":241,"v":70},{"d":243,"v":30},{"d":245,"v":120},{"d":247,"v":60},{"d":249,"v":90},{"d":251,"v":30},{"d":253,"v":70},{"d":255,"v":40},{"d":257,"v":80},{"d":259,"v":100},{"d":261,"v":40},{"d":263,"v":20},{"d":265,"v":50},{"d":267,"v":70},{"d":269,"v":30},{"d":271,"v":15},
  {"d":166,"v":30},{"d":168,"v":60},{"d":169,"v":20},{"d":171,"v":110},{"d":172,"v":40},{"d":173,"v":80},{"d":175,"v":50},{"d":176,"v":170},{"d":178,"v":120},{"d":179,"v":30},{"d":182,"v":60},{"d":184,"v":100},{"d":186,"v":40},{"d":188,"v":140},{"d":190,"v":80},{"d":192,"v":160},{"d":194,"v":50},{"d":196,"v":120},{"d":198,"v":60},{"d":200,"v":100},{"d":202,"v":40},{"d":204,"v":150},{"d":206,"v":90},{"d":208,"v":170},{"d":210,"v":60},{"d":212,"v":110},{"d":214,"v":70},{"d":216,"v":150},{"d":218,"v":40},{"d":220,"v":110},{"d":222,"v":170},{"d":224,"v":40},{"d":226,"v":90},{"d":228,"v":140},{"d":230,"v":60},{"d":232,"v":180},{"d":234,"v":100},{"d":236,"v":60},{"d":238,"v":160},{"d":240,"v":30},{"d":242,"v":110},{"d":244,"v":180},{"d":246,"v":90},{"d":248,"v":130},{"d":250,"v":70},{"d":252,"v":150},{"d":254,"v":40},{"d":256,"v":110},{"d":258,"v":60},{"d":260,"v":80},{"d":262,"v":120},{"d":264,"v":90},{"d":266,"v":30},{"d":268,"v":50},{"d":270,"v":20}
 ],
 "bH": [
  {"d":0,"v":2},{"d":1,"v":4},{"d":2,"v":6},{"d":3,"v":8.5},{"d":3,"v":5},{"d":4,"v":7},{"d":5,"v":3},{"d":6,"v":6},{"d":7,"v":4.5},{"d":8,"v":2},{"d":9,"v":3.5},{"d":10,"v":1.5},
  {"d":12,"v":2.5},{"d":14,"v":1},{"d":16,"v":2},{"d":18,"v":1},{"d":20,"v":0.5},{"d":22,"v":1.5},{"d":25,"v":1},{"d":27,"v":2.6},{"d":28,"v":1},
  {"d":32,"v":0.5},{"d":36,"v":1.3},{"d":40,"v":0.2},{"d":44,"v":0.8},{"d":48,"v":1.5},{"d":52,"v":0.4},{"d":56,"v":1},{"d":60,"v":0.6},{"d":64,"v":1.4},{"d":68,"v":0.2},{"d":72,"v":0.9},{"d":76,"v":0.5},{"d":80,"v":1.2},{"d":84,"v":0.3},{"d":88,"v":1},{"d":92,"v":0.6},{"d":96,"v":1.5},{"d":100,"v":0.2},{"d":104,"v":0.8},{"d":108,"v":1.1},{"d":112,"v":0.4},{"d":116,"v":1.3},{"d":120,"v":0.6},{"d":124,"v":1},{"d":128,"v":0.3},{"d":132,"v":1.5},{"d":136,"v":0.7},{"d":140,"v":1.2},{"d":144,"v":0.4},{"d":148,"v":1.8},{"d":152,"v":0.6},
  {"d":30,"v":0.8},{"d":34,"v":0.3},{"d":38,"v":1},{"d":42,"v":0.5},{"d":46,"v":1.2},{"d":50,"v":0.3},{"d":54,"v":0.8},{"d":58,"v":1.5},{"d":62,"v":0.4},{"d":66,"v":1},{"d":70,"v":0.6},{"d":74,"v":1.3},{"d":78,"v":0.2},{"d":82,"v":0.9},{"d":86,"v":1.4},{"d":90,"v":0.5},{"d":94,"v":1.1},{"d":98,"v":0.3},{"d":102,"v":1},{"d":106,"v":0.5},{"d":110,"v":1.4},{"d":114,"v":0.8},{"d":118,"v":0.3},{"d":122,"v":1.2},{"d":126,"v":0.6},{"d":130,"v":1},{"d":134,"v":0.3},{"d":138,"v":1.1},{"d":142,"v":0.7},{"d":146,"v":1.4},{"d":150,"v":0.5},{"d":154,"v":1.2},
  {"d":155,"v":1},{"d":158,"v":2},{"d":160,"v":4},{"d":161,"v":6.3},{"d":162,"v":3},{"d":164,"v":4.5},{"d":165,"v":2.5},{"d":166,"v":5},{"d":167,"v":3.5},{"d":168,"v":6},
  {"d":168.5,"v":10},{"d":169,"v":15},{"d":169.5,"v":22},{"d":170,"v":45},{"d":170,"v":37},{"d":170,"v":33},{"d":170.5,"v":54.5},{"d":170.5,"v":28},{"d":171.6,"v":65.6},{"d":171,"v":50},{"d":171,"v":42},{"d":171,"v":30},{"d":172.7,"v":58.4},{"d":171.5,"v":47},{"d":174.3,"v":60.6},{"d":172,"v":53},{"d":172,"v":45},{"d":172,"v":38},{"d":172,"v":25},{"d":174.3,"v":52.4},{"d":172.5,"v":36},{"d":173,"v":49.7},{"d":173,"v":43},{"d":173,"v":32.8},{"d":173,"v":20},{"d":174,"v":48},{"d":174,"v":40},{"d":174,"v":35},{"d":174,"v":28},{"d":174,"v":15},{"d":175,"v":45},{"d":175,"v":42},{"d":175,"v":33},{"d":175,"v":22},{"d":175,"v":10},{"d":176,"v":43},{"d":176,"v":37},{"d":176,"v":30},{"d":176,"v":18},{"d":177,"v":47},{"d":177,"v":40},{"d":177,"v":34},{"d":177,"v":24},{"d":177,"v":12},{"d":178,"v":42.5},{"d":178,"v":35},{"d":178,"v":28},{"d":178,"v":20},{"d":179.7,"v":48.8},{"d":179,"v":38},{"d":179,"v":30},{"d":179,"v":22},{"d":179,"v":14},{"d":180,"v":34},{"d":180,"v":26},{"d":180,"v":18},{"d":180,"v":8},{"d":181.4,"v":36.5},{"d":181,"v":30},{"d":181,"v":22},{"d":181,"v":15},{"d":182,"v":28},{"d":182,"v":20},{"d":182,"v":10},{"d":183,"v":25},{"d":183,"v":18},{"d":184,"v":31},{"d":184,"v":28.7},{"d":184,"v":22},{"d":184,"v":12},{"d":185,"v":26},{"d":185,"v":16},{"d":186,"v":20},{"d":186,"v":10},{"d":187,"v":24},{"d":187,"v":14},{"d":188,"v":18},{"d":188,"v":8},
  {"d":190.6,"v":24},{"d":192,"v":20},{"d":194,"v":16},{"d":196,"v":22},{"d":197,"v":24.4},{"d":198,"v":12},{"d":200,"v":23},{"d":202,"v":18},{"d":204,"v":21},{"d":205,"v":14},{"d":206.8,"v":26.3},{"d":208,"v":20},{"d":210,"v":15},{"d":212,"v":22},{"d":213,"v":10},{"d":215,"v":24},{"d":216,"v":17},{"d":218,"v":13},{"d":220,"v":23},{"d":221,"v":19},{"d":223,"v":23.9},{"d":224,"v":21},{"d":225,"v":16},{"d":227,"v":8},{"d":228,"v":20},
  {"d":225.8,"v":34.8},{"d":233.9,"v":56},{"d":237.7,"v":47.5},{"d":240,"v":48},{"d":243.6,"v":50},{"d":241,"v":40},{"d":240.4,"v":38},{"d":232,"v":36},{"d":236,"v":37},{"d":237,"v":34},{"d":239,"v":32},{"d":243.6,"v":29.4},{"d":241,"v":30},{"d":235,"v":28},{"d":233,"v":25},{"d":232,"v":22},{"d":234,"v":18},{"d":236,"v":15},{"d":238,"v":12},{"d":240,"v":20},{"d":241,"v":26},{"d":242,"v":22},{"d":243,"v":18},{"d":244,"v":14},{"d":245,"v":20},{"d":246,"v":16},{"d":247,"v":12},{"d":248,"v":10},{"d":249,"v":14},{"d":250,"v":8},{"d":251,"v":17.9},{"d":252,"v":12},{"d":253,"v":15},{"d":254,"v":10},{"d":255,"v":8},{"d":256,"v":12},{"d":257,"v":11.3},{"d":258,"v":9},{"d":259,"v":5},{"d":260,"v":7},{"d":262,"v":4},{"d":263,"v":6},{"d":264,"v":3},{"d":266,"v":4},{"d":268,"v":2},{"d":270,"v":3},{"d":272,"v":1.5},{"d":275,"v":1},
  {"d":181,"v":5},{"d":183,"v":8},{"d":185,"v":3},{"d":187,"v":6},{"d":189,"v":9},{"d":191,"v":4},{"d":193,"v":7},{"d":195,"v":2},{"d":197,"v":10},{"d":199,"v":5},{"d":201,"v":8},{"d":203,"v":3},{"d":205,"v":6},{"d":207,"v":9},{"d":209,"v":4},{"d":211,"v":7},{"d":213,"v":2},{"d":215,"v":5},{"d":217,"v":8},{"d":219,"v":3},{"d":221,"v":6},{"d":223,"v":4},{"d":225,"v":9},{"d":227,"v":2},{"d":229,"v":5},{"d":231,"v":8},{"d":233,"v":3},{"d":235,"v":6},{"d":237,"v":9},{"d":239,"v":4},{"d":241,"v":7},{"d":243,"v":5},{"d":245,"v":8},{"d":247,"v":3},{"d":249,"v":6},{"d":251,"v":4},{"d":253,"v":7},{"d":255,"v":2},{"d":257,"v":5},{"d":259,"v":3},{"d":261,"v":4},{"d":263,"v":2},
  {"d":170,"v":6},{"d":172,"v":10},{"d":174,"v":4},{"d":176,"v":8},{"d":178,"v":5},{"d":180,"v":12},{"d":182,"v":4},{"d":184,"v":6},{"d":186,"v":3},{"d":188,"v":12},{"d":190,"v":8},{"d":192,"v":11},{"d":194,"v":6},{"d":196,"v":9},{"d":198,"v":3},{"d":200,"v":13},{"d":202,"v":7},{"d":204,"v":11},{"d":206,"v":4},{"d":208,"v":12},{"d":210,"v":7},{"d":212,"v":11},{"d":214,"v":5},{"d":216,"v":12},{"d":218,"v":7},{"d":220,"v":10},{"d":222,"v":5},{"d":224,"v":12},{"d":226,"v":6},{"d":228,"v":11},{"d":230,"v":4},{"d":232,"v":13},{"d":234,"v":7},{"d":236,"v":10},{"d":238,"v":5},{"d":240,"v":11},{"d":242,"v":8},{"d":244,"v":6},{"d":246,"v":10},{"d":248,"v":5},{"d":250,"v":11},{"d":252,"v":6},{"d":254,"v":5},{"d":256,"v":8},{"d":258,"v":3},{"d":260,"v":5},{"d":262,"v":2.5},{"d":264,"v":4.5},{"d":266,"v":2},
  {"d":276,"v":1},{"d":278,"v":0.5},{"d":280,"v":0.4},{"d":282,"v":1},{"d":284,"v":0.8},{"d":286,"v":0.3},{"d":288,"v":0.3},{"d":290,"v":0.8},{"d":292,"v":1},{"d":294,"v":0.2},{"d":296,"v":0.2},{"d":298,"v":0.6},{"d":300,"v":0.7},{"d":302,"v":1},{"d":304,"v":1},{"d":306,"v":0.4},{"d":308,"v":0.3},{"d":310,"v":0.7},{"d":312,"v":0.9},{"d":314,"v":0.2},{"d":316,"v":0.5},{"d":318,"v":0.9},{"d":320,"v":1},{"d":322,"v":0.5},{"d":324,"v":0.3},{"d":326,"v":1.1},{"d":328,"v":0.8},{"d":330,"v":0.3},{"d":332,"v":1.2},{"d":334,"v":0.7},{"d":336,"v":0.4},{"d":338,"v":1.2},{"d":340,"v":0.9},{"d":342,"v":0.5},{"d":344,"v":0.6},{"d":346,"v":0.9},{"d":348,"v":1.1},
  {"d":350,"v":1},{"d":351,"v":3.4},{"d":352,"v":2},{"d":354,"v":1.5},{"d":355,"v":2.5},{"d":356,"v":3.5},{"d":357,"v":2},{"d":358.5,"v":4.1},{"d":359,"v":1.5},{"d":360,"v":2.8},{"d":360,"v":1}
 ]
},
"resolve": {"scale": {"shape": "independent"}, "legend": {"shape": "independent"}},
"spacing": 16,
"vconcat": [
 {
  "spacing": 0,
  "resolve": {"scale": {"shape": "independent"}, "legend": {"shape": "independent"}},
  "hconcat": [
   {"width": 54, "height": 277, "view": {"stroke": null}, "title": {"text": "a)", "offset": 48, "anchor": "start", "frame": "group"}, "data": {"values": []}, "mark": {"type": "point"}, "encoding": {}},
   {
    "width": 624, "height": 277,
    "view": {"stroke": "#808080", "strokeWidth": 2},
    "resolve": {"scale": {"y": "independent"}, "axis": {"y": "independent"}},
    "layer": [
     {"data": {"name": "aS"},
      "mark": {"type": "point", "filled": false, "color": "#000", "strokeWidth": 3, "size": 95, "opacity": 1},
      "encoding": {
       "x": {"field": "d", "type": "quantitative", "scale": {"domain": [0, 360], "nice": false, "zero": false},
        "axis": {"values": [0,45,90,135,180,225,270,315,360], "grid": true, "gridColor": "#808080", "gridWidth": 1, "tickSize": 6, "labelPadding": 18, "title": "Kalevi wind direction, degrees", "titleFontSize": 25, "titleX": 352, "titleY": 78, "titleBaseline": "alphabetic"}},
       "y": {"field": "v", "type": "quantitative", "scale": {"domain": [0, 360], "nice": false},
        "axis": {"orient": "left", "values": [0,45,90,135,180,225,270,315,360], "grid": true, "gridColor": "#000", "gridWidth": 1, "tickSize": 7, "labelPadding": 11, "domainColor": "#555", "domainWidth": 2, "title": "SO₂ flux, mgm⁻²s⁻¹", "titlePadding": 6}},
       "shape": {"datum": "SO2", "type": "nominal", "scale": {"domain": ["SO2", "H2S"], "range": ["circle", "M-1,0H1M0,-1V1"]},
        "legend": {"title": null, "orient": "none", "legendX": 15, "legendY": 3, "direction": "vertical", "strokeColor": "#000", "fillColor": "#fff", "padding": 10, "rowPadding": 21, "labelFont": "Liberation Sans", "labelFontSize": 21, "labelColor": "#000", "labelOffset": 5, "symbolSize": 110, "symbolStrokeWidth": 2.8, "symbolStrokeColor": "#000", "symbolFillColor": "transparent"}}
      }},
     {"data": {"name": "aH"},
      "mark": {"type": "point", "filled": false, "color": "#000", "strokeWidth": 3, "size": 170, "opacity": 1},
      "encoding": {
       "x": {"field": "d", "type": "quantitative"},
       "y": {"field": "v", "type": "quantitative", "scale": {"domain": [0, 30], "nice": false},
        "axis": {"orient": "right", "values": [0,5,10,15,20,25,30], "grid": false, "tickSize": 7, "labelPadding": 10, "domainWidth": 1.5, "title": "H₂S flux, mgm⁻²s⁻¹", "titleAngle": 270, "titleBaseline": "top", "titlePadding": 14}},
       "shape": {"datum": "H2S", "type": "nominal"}
      }}
    ]
   }
  ]
 },
 {
  "spacing": 0,
  "resolve": {"scale": {"shape": "independent"}, "legend": {"shape": "independent"}},
  "hconcat": [
   {"width": 35, "height": 290, "view": {"stroke": null}, "title": {"text": "b)", "offset": 104, "anchor": "start", "frame": "group"}, "data": {"values": []}, "mark": {"type": "point"}, "encoding": {}},
   {
    "width": 665, "height": 290,
    "view": {"stroke": "#808080", "strokeWidth": 2},
    "resolve": {"scale": {"y": "independent"}, "axis": {"y": "independent"}},
    "layer": [
     {"data": {"name": "bS"},
      "mark": {"type": "point", "filled": false, "color": "#000", "strokeWidth": 3, "size": 95, "opacity": 1},
      "encoding": {
       "x": {"field": "d", "type": "quantitative", "scale": {"domain": [0, 360], "nice": false, "zero": false},
        "axis": {"values": [0,45,90,135,180,225,270,315,360], "grid": true, "gridColor": "#808080", "gridWidth": 1, "tickSize": 6, "labelPadding": 20, "title": "Mobair wind direction, degrees", "titleFontSize": 25, "titlePadding": 14}},
       "y": {"field": "v", "type": "quantitative", "scale": {"domain": [0, 1200], "nice": false},
        "axis": {"orient": "left", "format": "d", "values": [0,200,400,600,800,1000,1200], "grid": true, "gridColor": "#000", "gridWidth": 1, "tickSize": 7, "labelPadding": 9, "domainColor": "#555", "domainWidth": 2, "title": "SO₂ flux, mgm⁻²s⁻¹", "titlePadding": 2}},
       "shape": {"datum": "SO2", "type": "nominal", "scale": {"domain": ["SO2", "H2S"], "range": ["circle", "M-1,0H1M0,-1V1"]},
        "legend": {"title": null, "orient": "none", "legendX": 33, "legendY": 13, "direction": "vertical", "strokeColor": "#000", "fillColor": "#fff", "padding": 14, "rowPadding": 22, "labelFont": "Liberation Sans", "labelFontSize": 21, "labelColor": "#000", "labelOffset": 6, "symbolSize": 110, "symbolStrokeWidth": 2.8, "symbolStrokeColor": "#000", "symbolFillColor": "transparent"}}
      }},
     {"data": {"name": "bH"},
      "mark": {"type": "point", "filled": false, "color": "#000", "strokeWidth": 3, "size": 170, "opacity": 1},
      "encoding": {
       "x": {"field": "d", "type": "quantitative"},
       "y": {"field": "v", "type": "quantitative", "scale": {"domain": [0, 70], "nice": false},
        "axis": {"orient": "right", "values": [0,10,20,30,40,50,60,70], "grid": false, "tickSize": 5, "labelPadding": 4, "domainWidth": 1.5, "title": "H₂S flux, mgm⁻²s⁻¹", "titleAngle": 270, "titleBaseline": "top", "titlePadding": 18}},
       "shape": {"datum": "H2S", "type": "nominal"}
      }}
    ]
   }
  ]
 }
]
}
